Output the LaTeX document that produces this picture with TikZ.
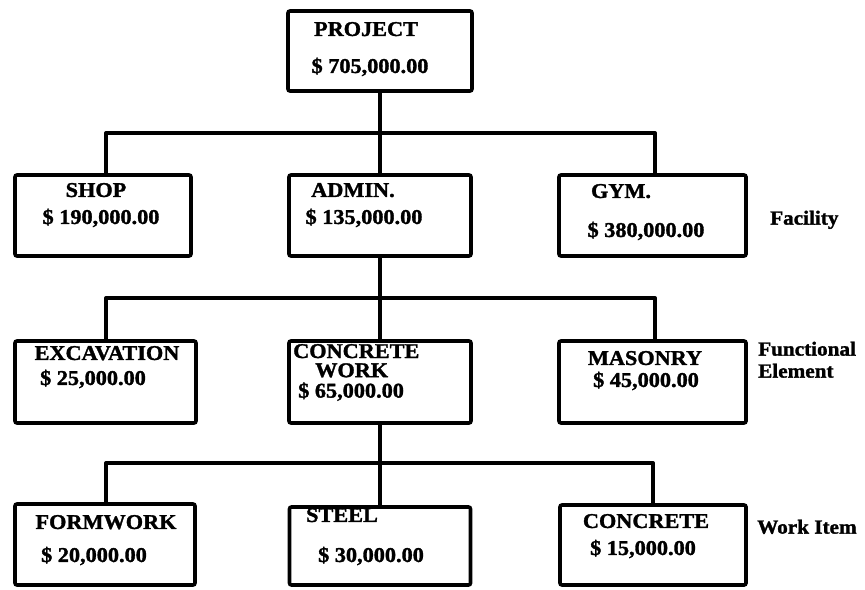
\documentclass[tikz,border=0pt]{standalone}
\usepackage{fontspec}
\setmainfont{Liberation Serif}[FakeStretch=1.06, BoldFeatures={FakeStretch=1.06, FakeBold=1.5}]
\begin{document}
\begin{tikzpicture}[x=1bp,y=-1bp,
  box/.style={draw=black, line width=3.6bp, rounded corners=2bp, inner sep=0pt},
  conn/.style={draw=black, line width=4bp, line join=round},
  txt/.style={inner sep=0pt, font=\fontsize{21bp}{23bp}\selectfont\bfseries, text height=13.9bp, text depth=0pt},
  stacktxt/.style={inner sep=0pt, anchor=base west, font=\fontsize{21bp}{17.5bp}\selectfont\bfseries},
  lbl/.style={inner sep=0pt, anchor=west, font=\fontsize{20bp}{22bp}\selectfont\bfseries, text height=13.2bp, text depth=0pt}]
\useasboundingbox (0,0) rectangle (865,590);
% boxes
\node[box, minimum width=184bp, minimum height=80bp] (proj) at (380,51) {};
\node[box, minimum width=176bp, minimum height=81bp] (shop) at (103,215.5) {};
\node[box, minimum width=182bp, minimum height=81bp] (admin) at (380,215.5) {};
\node[box, minimum width=187bp, minimum height=81bp] (gym) at (652.5,215.5) {};
\node[box, minimum width=181bp, minimum height=82bp] (excav) at (105.5,382) {};
\node[box, minimum width=182bp, minimum height=82bp] (cw) at (380,382) {};
\node[box, minimum width=187bp, minimum height=82bp] (mas) at (652.5,382) {};
\node[box, minimum width=180bp, minimum height=81bp] (form) at (105,544.5) {};
\node[box, minimum width=181bp, minimum height=78bp] (steel) at (380,546) {};
\node[box, minimum width=186bp, minimum height=80bp] (conc) at (653,545) {};
% bus corner coordinates
\coordinate (L1) at (106,133); \coordinate (R1) at (655,133);
\coordinate (L2) at (106,298); \coordinate (R2) at (655,298);
\coordinate (L3) at (106,463); \coordinate (R3) at (653,463);
% connectors
\draw[conn] (proj) -- (admin);
\draw[conn] (shop.north -| L1) -- (L1) -- (R1) -- (gym.north -| R1);
\draw[conn] (admin) -- (cw);
\draw[conn] (excav.north -| L2) -- (L2) -- (R2) -- (mas.north -| R2);
\draw[conn] (cw) -- (steel);
\draw[conn] (form.north -| L3) -- (L3) -- (R3) -- (conc.north -| R3);
% texts
\node[txt] (t1) at (366,29) {PROJECT};
\node[txt] (t2) at (370,66) {\$ 705,000.00};
\node[txt] (t3) at (96,190) {SHOP};
\node[txt] (t4) at (101,217) {\$ 190,000.00};
\node[txt] (t5) at (353,190) {ADMIN.};
\node[txt] (t6) at (364,217) {\$ 135,000.00};
\node[txt] (t7) at (621,191) {GYM.};
\node[txt] (t8) at (646,230) {\$ 380,000.00};
\node[txt] (t9) at (107,353) {EXCAVATION};
\node[txt] (t10) at (93,378) {\$ 25,000.00};
\node[stacktxt] (t11) at (293,358) {\begin{tabular}[t]{@{}l@{}}CONCRETE\\\hspace*{22bp}WORK\\\hspace*{5bp}\$ 65,000.00\end{tabular}};
\node[txt] (t14) at (645,358) {MASONRY};
\node[txt] (t15) at (646,380) {\$ 45,000.00};
\node[txt] (t16) at (106,522) {FORMWORK};
\node[txt] (t17) at (94,555) {\$ 20,000.00};
\node[txt] (t18) at (342,515) {STEEL};
\node[txt] (t19) at (371,555) {\$ 30,000.00};
\node[txt] (t20) at (646,521) {CONCRETE};
\node[txt] (t21) at (643,548) {\$ 15,000.00};
% side labels
\node[lbl] (l1) at (770,218) {Facility};
\node[lbl] (l2) at (758,349) {Functional};
\node[lbl] (l3) at (758,371) {Element};
\node[lbl] (l4) at (757,527) {Work Item};
\end{tikzpicture}
\end{document}
